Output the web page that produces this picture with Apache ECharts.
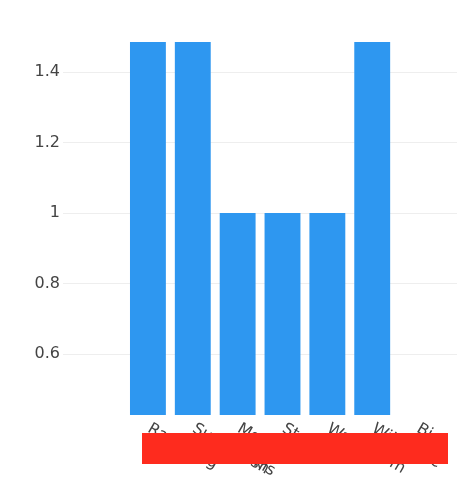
<!DOCTYPE html>
<html>
<head>
<meta charset="utf-8">
<script src="https://cdn.jsdelivr.net/npm/echarts@6/dist/echarts.min.js"></script>
<style>
  html, body { margin: 0; padding: 0; background: #fff; }
  #chart_bar { width: 457px; height: 500px; }
</style>
</head>
<body>
<div id="chart_bar"></div>
<script>
// 数据
var categories = ["Ragged", "Sugarbush\nLong", "Mount\nBankis", "Stowe", "Warren", "Wildcat\nStorm", "Big\nLake"];
var barValues = [1.5, 1.5, 1, 1, 1, 1.5, 0];
var yMin = 0.427;
var yMax = 1.485;

var chart_bar = echarts.init(document.getElementById("chart_bar"));
var textColor = "#444";
var fontName = "DejaVu Sans";

var option = {
  backgroundColor: "#fff",
  animation: false,
  // grid 0: y 轴和网格线, grid 1: 柱子
  grid: [
    { left: 63, right: 0, top: 42, bottom: 85, outerBoundsMode: "none" },
    { left: 125.5, right: 17.5, top: 42, bottom: 85, outerBoundsMode: "none" },
  ],
  xAxis: [
    { type: "value", gridIndex: 0, show: false, min: 0, max: 1 },
    {
      type: "category",
      gridIndex: 1,
      data: categories,
      axisLine: { show: false },
      axisTick: { show: false },
      axisLabel: {
        interval: 0,
        rotate: -30,
        align: "left",
        verticalAlign: "top",
        margin: 0,
        padding: [0, 0, 0, 7],
        color: textColor,
        fontFamily: fontName,
        fontSize: 16,
        lineHeight: 21,
      },
    },
  ],
  yAxis: [
    {
      type: "value",
      gridIndex: 0,
      min: yMin,
      max: yMax,
      splitNumber: 5,
      axisLine: { show: false },
      axisTick: { show: false },
      axisLabel: {
        showMinLabel: false,
        showMaxLabel: false,
        margin: 3,
        color: textColor,
        fontFamily: fontName,
        fontSize: 16,
      },
      splitLine: {
        showMinLine: false,
        showMaxLine: false,
        lineStyle: { color: "#eeeeee", width: 1 },
      },
    },
    {
      type: "value",
      gridIndex: 1,
      min: yMin,
      max: yMax,
      show: false,
      splitLine: { show: false },
    },
  ],
  series: [
    {
      type: "bar",
      xAxisIndex: 1,
      yAxisIndex: 1,
      barCategoryGap: "20%",
      clip: true,
      itemStyle: { color: "#2e97f0" },
      data: barValues,
    },
  ],
  // 红色遮挡块
  graphic: [
    {
      type: "rect",
      z: 100,
      shape: { x: 142, y: 433, width: 306, height: 31 },
      style: { fill: "#fe2b1e" },
    },
  ],
};
chart_bar.setOption(option);
</script>
</body>
</html>
